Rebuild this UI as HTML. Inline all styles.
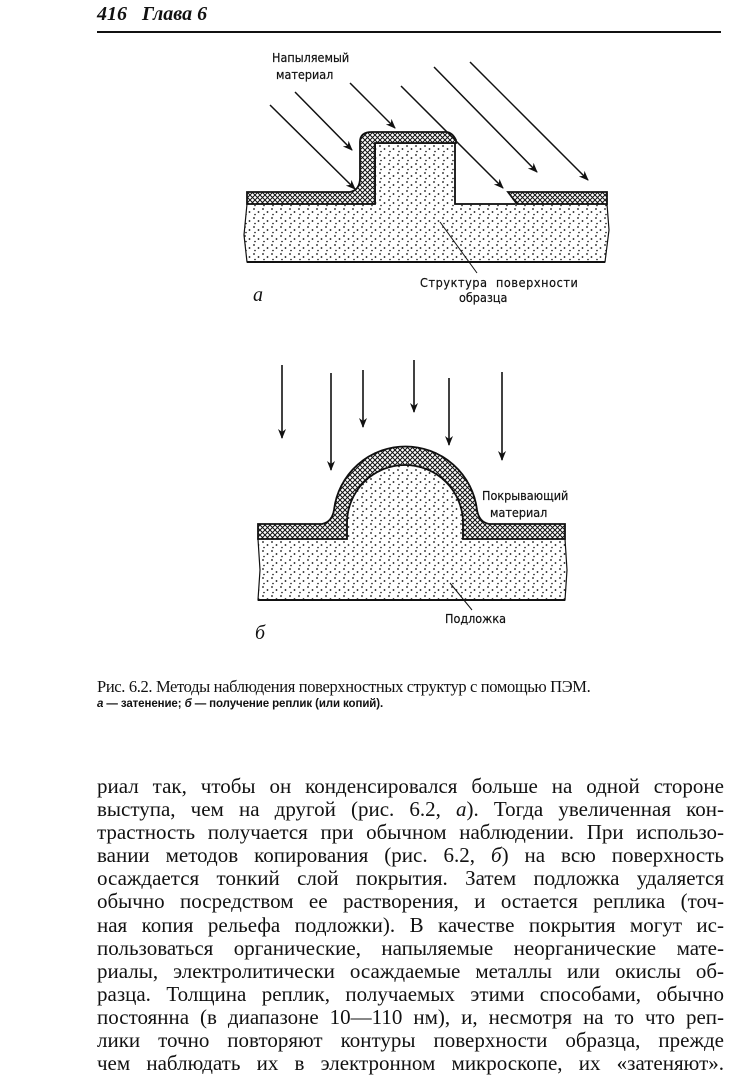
<!DOCTYPE html>
<html><head><meta charset="utf-8"><style>
body{margin:0;background:#fff;width:742px;height:1069px;position:relative;overflow:hidden;font-family:"Liberation Serif",serif;color:#111}
.abs{position:absolute;white-space:nowrap}
.body{position:absolute;left:97px;width:627px;top:775px;font-size:21px;line-height:23.1px}
.body div{text-align:justify;text-align-last:justify;height:23.1px;overflow:hidden}
</style></head><body>
<div class="abs" style="left:97px;top:3px;font-size:20px;font-style:italic;font-weight:bold">416&nbsp;&nbsp;&nbsp;Глава 6</div>
<div class="abs" style="left:97px;top:31px;width:624px;height:2px;background:#111"></div>
<svg width="742" height="680" style="position:absolute;left:0;top:0" xmlns="http://www.w3.org/2000/svg">
<defs>
<pattern id="dots" width="9" height="9" patternUnits="userSpaceOnUse">
<circle cx="2" cy="2" r="0.9" fill="#111"/><circle cx="6.5" cy="5" r="0.9" fill="#111"/><circle cx="3" cy="7.5" r="0.8" fill="#111"/>
</pattern>
<pattern id="hatch" width="5" height="5" patternUnits="userSpaceOnUse">
<rect width="5" height="5" fill="#fff"/>
<path d="M0,0L5,5M5,0L0,5" stroke="#111" stroke-width="1"/>
</pattern>
<marker id="ah" markerWidth="10" markerHeight="8" refX="9" refY="4" orient="auto" markerUnits="userSpaceOnUse">
<path d="M0,0L10,4L0,8L3,4Z" fill="#111"/></marker>
</defs>
<g stroke="#111" stroke-width="1.8">
<path d="M247,204 L375,204 L375,143 L455,143 L455,204 L607,204 L609,230 L605,262 L247,262 L244,235 Z" fill="url(#dots)" stroke-width="1.2"/>
<path d="M247,262 L605,262" stroke-width="2"/>
<path d="M375,204 L375,143 L455,143 L455,204 L515,204" fill="none"/>
<path d="M247,192 L350,192 Q360,190 360,178 L360,142 Q360,132 372,132 L446,132 Q452,132 456,140 L456,143 L375,143 L375,204 L247,204 Z" fill="url(#hatch)"/>
<path d="M508,192 L607,192 L607,204 L517,204 Z" fill="url(#hatch)"/>
<g stroke-width="1.5" marker-end="url(#ah)">
<line x1="270" y1="105" x2="355" y2="189"/>
<line x1="295" y1="92" x2="352" y2="150"/>
<line x1="350" y1="83" x2="395" y2="128"/>
<line x1="401" y1="86" x2="503" y2="188"/>
<line x1="434" y1="67" x2="537" y2="172"/>
<line x1="470" y1="62" x2="588" y2="180"/>
</g>
<line x1="440" y1="222" x2="477" y2="273" stroke-width="1"/>
<path d="M258,539 L347,539 L347,523 A58,58 0 0 1 463,523 L463,539 L565,539 L567,570 L565,600 L258,600 L260,570 Z" fill="url(#dots)" stroke-width="1.2"/>
<path d="M258,600 L565,600" stroke-width="2"/>
<path d="M258,524 L322,524 Q332,522 334,510 A72,72 0 0 1 477,510 Q479,522 489,524 L565,524 L565,539 L463,539 L463,523 A58,58 0 0 0 347,523 L347,539 L258,539 Z" fill="url(#hatch)"/>
<g stroke-width="1.6" marker-end="url(#ah)">
<line x1="282" y1="365" x2="282" y2="438"/>
<line x1="331" y1="373" x2="331" y2="470"/>
<line x1="363" y1="370" x2="363" y2="427"/>
<line x1="414" y1="360" x2="414" y2="412"/>
<line x1="449" y1="378" x2="449" y2="445"/>
<line x1="502" y1="372" x2="502" y2="460"/>
</g>
<line x1="450" y1="583" x2="472" y2="610" stroke-width="1"/>
</g>
<g font-family="DejaVu Sans Condensed, DejaVu Sans, sans-serif" font-size="12.5" fill="#111" stroke="#111" stroke-width="0.2">
<text x="272" y="62">Напыляемый</text>
<text x="276" y="79">материал</text>
<text x="420" y="287" letter-spacing="0.6">Структура&#160;&#160;поверхности</text>
<text x="459" y="302">образца</text>
<text x="482" y="500">Покрывающий</text>
<text x="490" y="517">материал</text>
<text x="445" y="623">Подложка</text>
</g>
<text x="253" y="301" font-family="Liberation Serif, serif" font-style="italic" font-size="20" fill="#111">а</text>
<text x="255" y="639" font-family="Liberation Serif, serif" font-style="italic" font-size="20" fill="#111">б</text>
</svg>
<div class="abs" style="left:97px;top:677px;font-size:16.5px;letter-spacing:-0.35px">Рис. 6.2. Методы наблюдения поверхностных структур с помощью ПЭМ.</div>
<div class="abs" style="left:97px;top:698px;font-size:11.5px;font-weight:bold;font-family:'Liberation Sans',sans-serif;letter-spacing:-0.1px"><i>а</i> — затенение; <i>б</i> — получение реплик (или копий).</div>
<div class="body">
<div>риал так, чтобы он конденсировался больше на одной стороне</div>
<div>выступа, чем на другой (рис. 6.2, <i>а</i>). Тогда увеличенная кон-</div>
<div>трастность получается при обычном наблюдении. При использо-</div>
<div>вании методов копирования (рис. 6.2, <i>б</i>) на всю поверхность</div>
<div>осаждается тонкий слой покрытия. Затем подложка удаляется</div>
<div>обычно посредством ее растворения, и остается реплика (точ-</div>
<div>ная копия рельефа подложки). В качестве покрытия могут ис-</div>
<div>пользоваться органические, напыляемые неорганические мате-</div>
<div>риалы, электролитически осаждаемые металлы или окислы об-</div>
<div>разца. Толщина реплик, получаемых этими способами, обычно</div>
<div>постоянна (в диапазоне 10—110 нм), и, несмотря на то что реп-</div>
<div>лики точно повторяют контуры поверхности образца, прежде</div>
<div>чем наблюдать их в электронном микроскопе, их «затеняют».</div>
</div>
</body></html>
